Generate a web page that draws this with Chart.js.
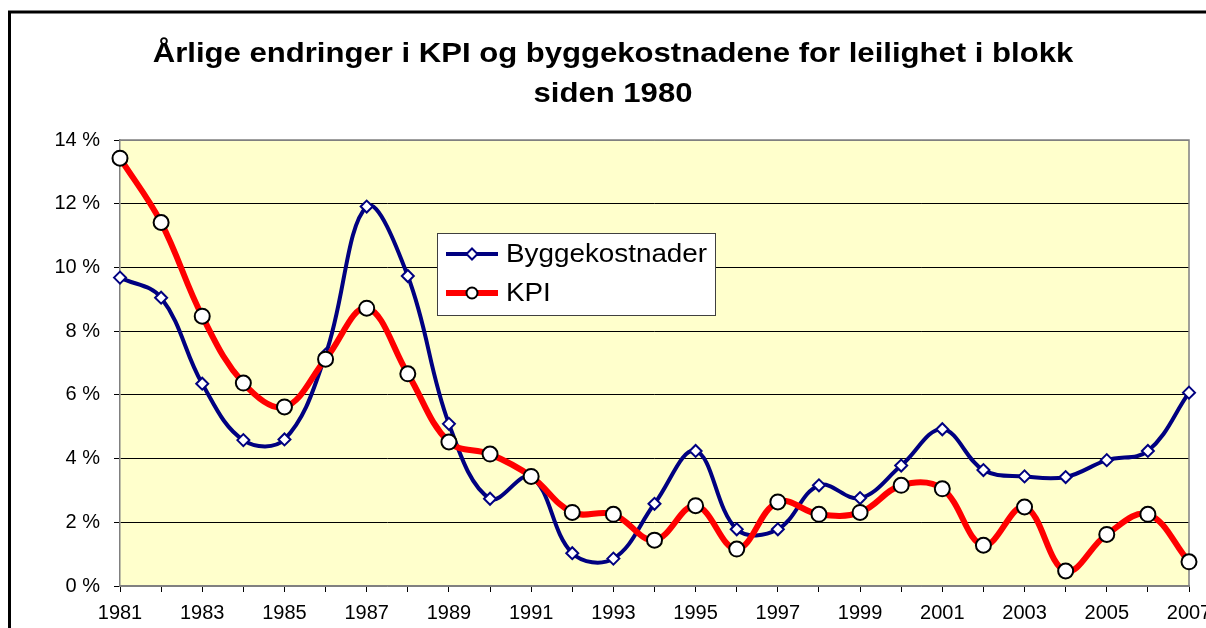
<!DOCTYPE html>
<html>
<head>
<meta charset="utf-8">
<script src="https://cdn.jsdelivr.net/npm/chart.js@4"></script>
<style>
  html, body { margin: 0; padding: 0; background: #fff; }
  #wrap { width: 1206px; height: 628px; position: relative; }
</style>
</head>
<body>
<div id="wrap"><canvas id="chart" width="1206" height="628"></canvas></div>
<script>
const titleLines = ['Årlige endringer i KPI og byggekostnadene for leilighet i blokk', 'siden 1980'];
const years = ['1981', '1982', '1983', '1984', '1985', '1986', '1987', '1988', '1989', '1990',
  '1991', '1992', '1993', '1994', '1995', '1996', '1997', '1998', '1999', '2000',
  '2001', '2002', '2003', '2004', '2005', '2006', '2007'];
const byggekostnader = [9.68, 9.05, 6.35, 4.58, 4.6, 7.26, 11.91, 9.73, 5.09, 2.74,
  3.43, 1.03, 0.86, 2.58, 4.24, 1.78, 1.78, 3.16, 2.76, 3.78,
  4.92, 3.64, 3.44, 3.42, 3.95, 4.24, 6.07];
const kpi = [13.43, 11.41, 8.47, 6.37, 5.62, 7.12, 8.72, 6.66, 4.52, 4.14,
  3.44, 2.31, 2.25, 1.44, 2.52, 1.16, 2.64, 2.25, 2.31, 3.16,
  3.05, 1.28, 2.48, 0.47, 1.62, 2.25, 0.76];
const yTicks = [0, 2, 4, 6, 8, 10, 12, 14];

const FONT = 'Arial, "Liberation Sans", sans-serif';

// draws stretched text (the original's text is a bit wider than Arial)
function wideText(ctx, text, x, y, sx, align) {
  ctx.save();
  ctx.translate(x, y);
  ctx.scale(sx, 1);
  ctx.textAlign = align;
  ctx.fillText(text, 0, 0);
  ctx.restore();
}

// background, outer frame, plot frame, title and legend
const framePlugin = {
  id: 'frame',
  beforeDraw(chart) {
    const { ctx, chartArea: a } = chart;
    ctx.save();
    ctx.fillStyle = '#ffffff';
    ctx.fillRect(0, 0, chart.width, chart.height);
    ctx.strokeStyle = '#000';
    ctx.lineWidth = 3;
    ctx.strokeRect(9.5, 12, 1400, 800);
    ctx.fillStyle = '#FFFFCC';
    ctx.fillRect(a.left, a.top, a.right - a.left, a.bottom - a.top);
    ctx.restore();
  },
  beforeDatasetsDraw(chart) {
    const { ctx, chartArea: a } = chart;
    ctx.save();
    ctx.strokeStyle = '#808080';
    ctx.lineWidth = 1.5;
    ctx.beginPath();
    ctx.moveTo(a.left, a.top);
    ctx.lineTo(a.right, a.top);
    ctx.lineTo(a.right, a.bottom);
    ctx.stroke();
    ctx.restore();
  },
  afterDraw(chart) {
    const { ctx } = chart;
    ctx.save();
    // title
    ctx.fillStyle = '#000';
    ctx.font = 'bold 28px ' + FONT;
    ctx.textBaseline = 'alphabetic';
    wideText(ctx, titleLines[0], 613, 62, 1.11, 'center');
    wideText(ctx, titleLines[1], 613, 102, 1.11, 'center');

    // legend
    ctx.fillStyle = '#fff';
    ctx.fillRect(437, 233, 278, 82);
    ctx.strokeStyle = '#404040';
    ctx.lineWidth = 1;
    ctx.strokeRect(437.5, 233.5, 278, 82);
    const ys = [254, 293];
    chart.data.datasets.forEach((ds, i) => {
      const y = ys[i];
      ctx.strokeStyle = ds.borderColor;
      ctx.lineWidth = ds.borderWidth;
      ctx.beginPath();
      ctx.moveTo(446, y);
      ctx.lineTo(498, y);
      ctx.stroke();
      ctx.fillStyle = ds.pointBackgroundColor;
      ctx.strokeStyle = ds.pointBorderColor;
      ctx.lineWidth = ds.pointBorderWidth;
      ctx.beginPath();
      if (ds.pointStyle === 'circle') {
        ctx.arc(472, y, 5.5, 0, Math.PI * 2);
      } else {
        ctx.moveTo(472, y - 5.5); ctx.lineTo(477.5, y); ctx.lineTo(472, y + 5.5); ctx.lineTo(466.5, y); ctx.closePath();
      }
      ctx.fill();
      ctx.stroke();
      ctx.fillStyle = '#000';
      ctx.font = '26px ' + FONT;
      ctx.textBaseline = 'middle';
      wideText(ctx, ds.label, 506, y + 1, 1.07, 'left');
    });
    ctx.restore();
  }
};

new Chart(document.getElementById('chart'), {
  type: 'line',
  data: {
    labels: years,
    datasets: [
      {
        label: 'Byggekostnader',
        data: byggekostnader,
        borderColor: '#000080',
        borderWidth: 4,
        tension: 0.38,
        pointStyle: 'rectRot',
        pointRadius: 6,
        pointBackgroundColor: '#ffffff',
        pointBorderColor: '#000080',
        pointBorderWidth: 2,
        clip: false,
        order: 2
      },
      {
        label: 'KPI',
        data: kpi,
        borderColor: '#FF0000',
        borderWidth: 6,
        tension: 0.38,
        pointStyle: 'circle',
        pointRadius: 7.5,
        pointBackgroundColor: '#ffffff',
        pointBorderColor: '#000000',
        pointBorderWidth: 2,
        clip: false,
        order: 1
      }
    ]
  },
  options: {
    responsive: false,
    animation: false,
    devicePixelRatio: 1,
    layout: { padding: { left: 0, top: 140, right: 17, bottom: 0 } },
    plugins: {
      legend: { display: false },
      title: { display: false },
      tooltip: { enabled: false }
    },
    scales: {
      x: {
        offset: false,
        grid: { drawOnChartArea: false, drawTicks: true, tickLength: 6, color: '#000' },
        border: { color: '#808080', width: 1.5 },
        ticks: {
          autoSkip: false,
          maxRotation: 0,
          padding: 9,
          color: '#000',
          font: { family: FONT, size: 20 },
          callback: (v, i) => (i % 2 === 0 ? years[i] : '')
        },
        afterFit: s => { s.height = 42; s.paddingLeft = 0; s.paddingRight = 0; }
      },
      y: {
        min: yTicks[0],
        max: yTicks[yTicks.length - 1],
        afterBuildTicks: s => { s.ticks = yTicks.map(v => ({ value: v })); },
        grid: {
          color: c => (c.tick && (c.tick.value === 14 || c.tick.value === 0) ? '#808080' : '#000'),
          lineWidth: 1,
          tickLength: 6,
          tickColor: '#000'
        },
        border: { color: '#808080', width: 1.5 },
        ticks: {
          padding: 14,
          color: '#000',
          font: { family: FONT, size: 20 },
          callback: v => v + ' %'
        },
        afterFit: s => { s.width = 120; }
      }
    }
  },
  plugins: [framePlugin]
});
</script>
</body>
</html>
